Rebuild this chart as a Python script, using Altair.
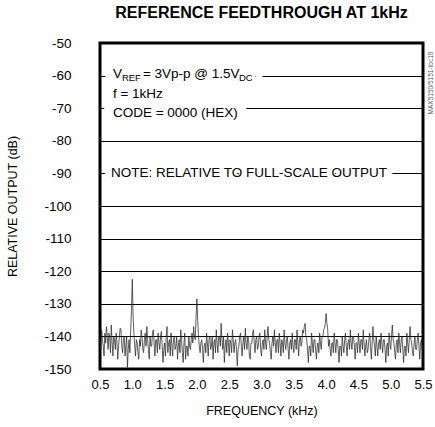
import altair as alt
import numpy as np
import pandas as pd

# ---- data (relative output in dB, evenly spaced 0.5..5.5 kHz) ----
y_values = [
    -141, -144, -138, -141, -143, -146, -139, -142, -137, -140,
    -144, -139, -140, -145, -136.5, -142, -146, -140, -141, -144,
    -139, -142, -147, -143, -140, -137.5, -138, -143, -145, -141,
    -140, -146, -143, -140, -149.5, -144, -141, -145, -138, -132,
    -122.5, -134, -139, -143, -146, -141, -142, -145, -147, -141,
    -143, -138, -140, -144, -145, -141, -139, -143, -137, -141,
    -144, -147, -140, -143, -143, -139, -138, -142, -146, -141,
    -141, -145, -139, -142, -144, -140, -138.5, -143, -148, -144,
    -142, -146, -140, -137, -145, -142, -141, -146, -139, -143,
    -146, -141, -140, -144, -143, -140, -147, -143, -141, -145,
    -138, -141, -145, -148, -142, -139, -147, -143, -143, -146,
    -140, -143, -144, -141, -139, -142, -137, -140, -141, -134,
    -128.5, -135, -140, -143, -145, -142, -141, -144, -148, -143,
    -142, -145, -139, -142, -146, -141, -140, -144, -143, -140,
    -147, -142, -141, -145, -138, -142, -145, -140, -140, -143,
    -136, -141, -144, -140, -148, -143, -141, -145, -139, -142,
    -146, -141, -142, -145, -138, -141, -145, -142, -141, -144,
    -149, -144, -143, -140, -139, -143, -146, -142, -140, -144,
    -137.5, -142, -144, -140, -141, -146, -147, -142, -142, -139,
    -138, -142, -145, -141, -140, -144, -143, -140, -139, -144,
    -146, -142, -141, -144, -138, -142, -144, -140, -137, -141,
    -142, -145, -147, -142, -140, -143, -138, -142, -145, -141,
    -141, -145, -139, -142, -146, -141, -142, -145, -138, -142,
    -144, -141, -140, -144, -147, -142, -141, -144, -139, -143,
    -145, -141, -141, -144, -138, -142, -146, -141, -140, -143,
    -142, -138, -139, -137, -136, -140, -141, -144, -148, -143,
    -143, -146, -139, -142, -145, -141, -141, -144, -147, -143,
    -142, -145, -139, -142, -144, -140, -140, -138, -137.5, -136,
    -133, -136, -138, -143, -141, -144, -146, -142, -142, -145,
    -139, -142, -145, -141, -141, -144, -148, -143, -143, -146,
    -140, -143, -145, -141, -139, -143, -146, -142, -141, -144,
    -138, -142, -144, -140, -140, -143, -147, -142, -142, -145,
    -139, -142, -145, -141, -141, -144, -138, -142, -146, -143,
    -141, -145, -144, -141, -139, -143, -147, -142, -137, -141,
    -143, -146, -140, -143, -146, -142, -141, -144, -139, -142,
    -145, -141, -141, -144, -148, -143, -142, -146, -139, -142,
    -144, -140, -136.5, -141, -142, -145, -147, -142, -141, -145,
    -139, -142, -145, -141, -140, -144, -148, -143, -143, -146,
    -139, -142, -145, -141, -137, -141, -142, -145, -146, -142,
    -140, -144, -144, -141, -139, -143, -147, -142, -141, -144,
    -143,
]
x_start, x_end = 0.5, 5.5
x_ticks = [0.5, 1.0, 1.5, 2.0, 2.5, 3.0, 3.5, 4.0, 4.5, 5.0, 5.5]
y_ticks = [-150, -140, -130, -120, -110, -100, -90, -80, -70, -60, -50]

# annotation texts: position in data units, size, pixel nudges, halo kind
ann_text = ["V", "REF", "= 3Vp-p @ 1.5V", "DC", "f = 1kHz", "CODE = 0000 (HEX)",
            "NOTE: RELATIVE TO FULL-SCALE OUTPUT"]
ann_x = [0.70, 0.70, 0.70, 0.70, 0.70, 0.70, 0.67]
ann_y = [-59.6, -59.6, -59.6, -59.6, -65.5, -71.4, -90]
ann_size = [13.5, 9.5, 13.5, 9.5, 13.5, 13.5, 13.5]
ann_dx = [0, 9, 30, 126, 0, 0, 0]
ann_dy = [0, 4, 0, 4, 0, 0, 0]
ann_halo = [1, 1, 1, 1, 0, 1, 2]

FONT = "Liberation Sans"

df = pd.DataFrame({"f": np.linspace(x_start, x_end, len(y_values)), "db": y_values})

xs = alt.Scale(domain=[x_start, x_end], nice=False, zero=False)
ys = alt.Scale(domain=[-150, -50], nice=False, zero=False)

x_axis = alt.Axis(values=x_ticks, format=".1f", title="FREQUENCY (kHz)",
                  grid=False, domain=False, ticks=False, labelPadding=9,
                  labelOverlap=False, labelFlush=False,
                  labelFontSize=13, labelFont=FONT, labelColor="black",
                  titleFont=FONT, titleFontSize=12.5, titleFontWeight="normal",
                  titleColor="black", titlePadding=13)
y_axis = alt.Axis(values=y_ticks, title="RELATIVE OUTPUT (dB)",
                  labelExpr="datum.value < 0 ? '-' + abs(datum.value) : '' + datum.value",
                  grid=True, gridColor="black", gridWidth=1, gridOpacity=1,
                  domain=False, ticks=False, labelPadding=29, labelOverlap=False,
                  labelFontSize=13.5, labelFont=FONT, labelColor="black",
                  titleFont=FONT, titleFontSize=12.5, titleFontWeight="normal",
                  titleColor="black", titlePadding=24)

trace = alt.Chart(df).mark_line(color="#2a2a2a", strokeWidth=0.75).encode(
    x=alt.X("f:Q", scale=xs, axis=x_axis, title="FREQUENCY (kHz)"),
    y=alt.Y("db:Q", scale=ys, axis=y_axis, title="RELATIVE OUTPUT (dB)"),
)

def ann_layer(i, t, halo):
    kw = dict(align="left", baseline="middle", font=FONT, fontSize=ann_size[i],
              dx=ann_dx[i], dy=ann_dy[i])
    if halo:
        kw.update(color="white", stroke="white", strokeWidth=20 if ann_halo[i] == 1 else 14,
                  strokeJoin="round", strokeCap="round")
    else:
        kw.update(color="black")
    return alt.Chart(pd.DataFrame({"f": [ann_x[i]], "db": [ann_y[i]], "t": [t]})).mark_text(
        **kw
    ).encode(x=alt.X("f:Q", scale=xs, axis=x_axis, title="FREQUENCY (kHz)"),
             y=alt.Y("db:Q", scale=ys, axis=y_axis, title="RELATIVE OUTPUT (dB)"),
             text="t:N")

layers = [trace]
for i, t in enumerate(ann_text):
    if ann_halo[i]:
        layers.append(ann_layer(i, t, True))
for i, t in enumerate(ann_text):
    layers.append(ann_layer(i, t, False))

tag = alt.Chart(pd.DataFrame({"t": ["MAX5150/5151-toc10"]})).mark_text(
    angle=270, font=FONT, fontSize=6.5, color="#555555", align="center", baseline="middle"
).encode(x=alt.value(331), y=alt.value(40), text="t:N")
layers.append(tag)

chart = alt.layer(*layers).properties(
    width=323, height=326,
    background="white",
    title=alt.TitleParams("REFERENCE FEEDTHROUGH AT 1kHz", font=FONT, fontSize=16,
                          fontWeight="bold", color="black", anchor="middle", offset=15),
    autosize=alt.AutoSizeParams(type="none"),
    padding={"left": 100, "top": 43, "right": 12, "bottom": 58},
).configure_view(stroke="black", strokeWidth=3)

chart.save("out.html", embed_options={"renderer": "svg", "actions": False})
